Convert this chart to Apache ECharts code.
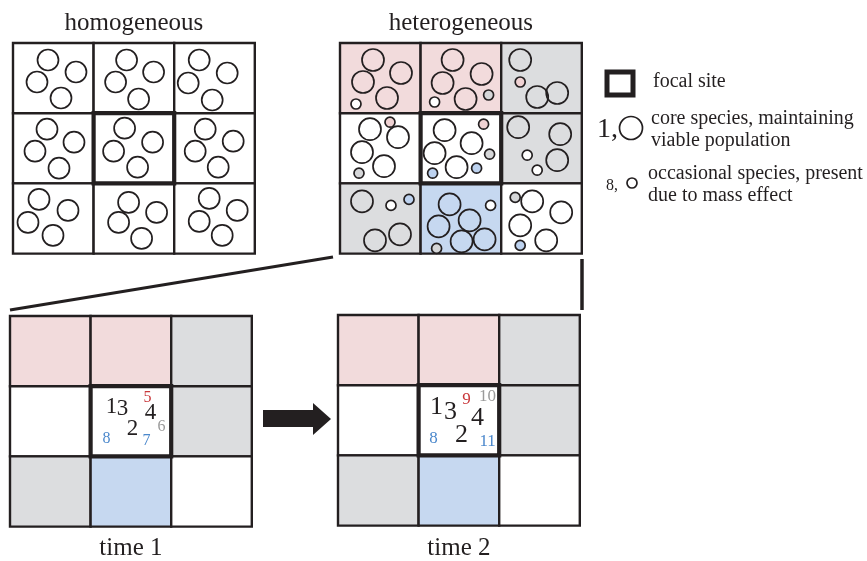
<!DOCTYPE html>
<html><head><meta charset="utf-8">
<script src="https://cdn.jsdelivr.net/npm/echarts@6/dist/echarts.min.js"></script>
<style>html,body{margin:0;padding:0;background:#fff}#c{width:867px;height:561px}</style>
</head><body><div id="c"></div>
<script>
// ================= DATA =================
const panelTitles = ['homogeneous', 'heterogeneous', 'time 1', 'time 2'];
// cell habitat types, row-major 3x3
const homoCellTypes = ['white','white','white','white','white','white','white','white','white'];
const heteroCellTypes = ['pink','pink','gray','white','white','gray','gray','blue','white'];
// homogeneous landscape: [cell, dx, dy] of core species
const homoCircles = [
  [0,35,17],[0,63,29],[0,24,39],[0,48,55],
  [1,33,17],[1,60,29],[1,22,39],[1,45,56],
  [2,25,17],[2,53,30],[2,14,40],[2,38,57],
  [3,34,16],[3,61,29],[3,22,38],[3,46,55],
  [4,31,15],[4,59,29],[4,20,38],[4,44,54],
  [5,31,16],[5,59,28],[5,21,38],[5,44,54],
  [6,26,16],[6,55,27],[6,15,39],[6,40,52],
  [7,35,19],[7,63,29],[7,25,39],[7,48,55],
  [8,35,15],[8,63,27],[8,25,38],[8,48,52]
];
// heterogeneous landscape: [cell, dx, dy, kind, colour-type]
const heteroCircles = [
  [0,33,17,'core','none'],[0,61,30,'core','none'],[0,23,39,'core','none'],[0,47,55,'core','none'],[0,16,61,'occ','white'],
  [1,32,17,'core','none'],[1,61,31,'core','none'],[1,22,40,'core','none'],[1,45,56,'core','none'],[1,14,59,'occ','white'],[1,68,52,'occ','gray'],
  [2,19,17,'core','none'],[2,36,54,'core','none'],[2,56,50,'core','none'],[2,19,39,'occ','pink'],
  [3,30,16,'core','none'],[3,58,24,'core','none'],[3,22,39,'core','none'],[3,44,53,'core','none'],[3,50,9,'occ','pink'],[3,19,60,'occ','gray'],
  [4,24,17,'core','none'],[4,51,30,'core','none'],[4,14,40,'core','none'],[4,36,54,'core','none'],[4,63,11,'occ','pink'],[4,69,41,'occ','gray'],[4,12,60,'occ','blue'],[4,56,55,'occ','blue'],
  [5,17,14,'core','none'],[5,59,21,'core','none'],[5,56,47,'core','none'],[5,26,42,'occ','white'],[5,36,57,'occ','white'],
  [6,22,18,'core','none'],[6,35,57,'core','none'],[6,60,51,'core','none'],[6,51,22,'occ','white'],[6,69,16,'occ','blue'],
  [7,29,21,'core','none'],[7,49,37,'core','none'],[7,18,43,'core','none'],[7,41,58,'core','none'],[7,64,56,'core','none'],[7,70,22,'occ','white'],[7,16,65,'occ','gray'],
  [8,31,18,'core','none'],[8,60,29,'core','none'],[8,19,42,'core','none'],[8,45,57,'core','none'],[8,14,14,'occ','gray'],[8,19,62,'occ','blue']
];
// species labels in focal site: [label, dx, dy, kind, colour-type]
const time1Species = [
  ['1',21,21,'core','black'],['3',32,23,'core','black'],['5',57,12,'occ','red'],['4',60,27,'core','black'],
  ['6',71,41,'occ','gray'],['2',42,43,'core','black'],['8',16,53,'occ','blue'],['7',56,55,'occ','blue']
];
const time2Species = [
  ['1',18,22,'core','black'],['3',32,27,'core','black'],['9',48,14,'occ','red'],['10',69,11,'occ','gray'],
  ['4',59,33,'core','black'],['2',43,50,'core','black'],['8',15,53,'occ','blue'],['11',69,56,'occ','blue']
];
const legendTexts = ['focal site', 'core species, maintaining', 'viable population', 'occasional species, present', 'due to mass effect'];
const legendMarks = ['1,', '8,'];

// ================= LAYOUT & STYLE =================
const L = {
  cw: 80.6, ch: 70.2,
  panels: [{x:13,y:43},{x:340,y:43},{x:10,y:316},{x:338,y:315}],
  titleY: [23, 23, 548, 548],
  speciesFont: {2:{core:23, occ:16}, 3:{core:26, occ:17}},
  connectors: [[[10,310],[333,257],3],[[582,259],[582,310],3.5]],
  arrow: [[263,410],[313,410],[313,403],[331,419],[313,435],[313,427],[263,427]],
  legendBox: [607,72,26,23],
  legendCircles: [[631,128,'core'],[632,183,'occ']],
  legendTextPos: [[653,82],[651,119],[651,141],[648,174],[648,196]],
  legendMarkPos: [[597,130,28],[606,186,16]]
};
const INK = '#231f20';
const CELL_FILL = {white:'#ffffff', pink:'#f2dbdc', gray:'#dcdddf', blue:'#c6d8f0'};
const OCC_FILL = {none:'rgba(0,0,0,0)', white:'#ffffff', pink:'#f0d2d3', gray:'#d5d6d8', blue:'#bdd2ef'};
const DIGIT_COL = {black:INK, red:'#c9373a', gray:'#9a9a9a', blue:'#4b88cc'};
const SERIF = '"Liberation Serif","Times New Roman",serif';

// ================= BUILD =================
const panelTypes = [homoCellTypes, heteroCellTypes, heteroCellTypes, heteroCellTypes];
const cellData = [];
panelTypes.forEach((types, p) => types.forEach((t, i) => cellData.push({value:[p, i % 3, Math.floor(i / 3)], t})));

function cellOrigin(p, cell) {
  const P = L.panels[p];
  return [P.x + (cell % 3) * L.cw, P.y + Math.floor(cell / 3) * L.ch];
}
const circleData = [];
homoCircles.forEach(([cell, dx, dy]) => {
  const o = cellOrigin(0, cell);
  circleData.push({value:[o[0] + dx, o[1] + dy], symbolSize: 21, itemStyle:{color: OCC_FILL.none}});
});
heteroCircles.forEach(([cell, dx, dy, kind, col]) => {
  const o = cellOrigin(1, cell);
  circleData.push({value:[o[0] + dx, o[1] + dy], symbolSize: kind === 'core' ? 22 : 10, itemStyle:{color: OCC_FILL[col]}});
});
L.legendCircles.forEach(([x, y, kind]) => circleData.push({value:[x, y], symbolSize: kind === 'core' ? 23 : 10, itemStyle:{color:'#fff'}}));

const labelData = [];
[[time1Species, 2], [time2Species, 3]].forEach(([arr, p]) => arr.forEach(([lab, dx, dy, kind, col]) => {
  const o = cellOrigin(p, 4);
  labelData.push({value:[o[0] + dx, o[1] + dy], text: lab, size: L.speciesFont[p][kind], color: DIGIT_COL[col], align:'center'});
}));
panelTitles.forEach((t, p) => labelData.push({value:[L.panels[p].x + 1.5 * L.cw, L.titleY[p]], text: t, size: 25, color: INK, align:'center'}));
legendTexts.forEach((t, i) => labelData.push({value: L.legendTextPos[i], text: t, size: 20, color: INK, align:'left'}));
legendMarks.forEach((t, i) => labelData.push({value: [L.legendMarkPos[i][0], L.legendMarkPos[i][1]], text: t, size: L.legendMarkPos[i][2], color: INK, align:'left'}));

const chart = echarts.init(document.getElementById('c'), null, {renderer:'canvas'});
chart.setOption({
  animation: false,
  backgroundColor: '#ffffff',
  grid: {left:0, right:0, top:0, bottom:0},
  xAxis: {type:'value', min:0, max:867, show:false},
  yAxis: {type:'value', min:0, max:561, inverse:true, show:false},
  series: [
    { // cells
      type:'custom', z:1, silent:true,
      data: cellData.map(d => d.value),
      renderItem: (params, api) => {
        const d = cellData[params.dataIndex];
        const P = L.panels[api.value(0)], c = api.value(1), r = api.value(2);
        const a = api.coord([P.x + c * L.cw, P.y + r * L.ch]);
        const b = api.coord([P.x + (c + 1) * L.cw, P.y + (r + 1) * L.ch]);
        return {type:'rect', shape:{x:a[0], y:a[1], width:b[0]-a[0], height:b[1]-a[1]},
          style:{fill: CELL_FILL[d.t], stroke: INK, lineWidth: 2.4}};
      }
    },
    { // focal borders + legend box
      type:'custom', z:5, silent:true,
      data: [[0],[1],[2],[3],[4]],
      renderItem: (params, api) => {
        const p = api.value(0);
        let x0, y0, x1, y1;
        if (p < 4) {
          const o = cellOrigin(p, 4);
          x0 = o[0]; y0 = o[1]; x1 = o[0] + L.cw; y1 = o[1] + L.ch;
        } else {
          const [x, y, w, h] = L.legendBox;
          x0 = x; y0 = y; x1 = x + w; y1 = y + h;
        }
        const a = api.coord([x0, y0]), b = api.coord([x1, y1]);
        return {type:'rect', shape:{x:a[0], y:a[1], width:b[0]-a[0], height:b[1]-a[1]},
          style:{fill:'none', stroke: INK, lineWidth: p < 4 ? 4.2 : 5}};
      }
    },
    { // circles
      type:'scatter', z:3, silent:true, symbol:'circle',
      itemStyle:{borderColor: INK, borderWidth: 1.7, opacity:1},
      data: circleData
    },
    { // connector lines
      type:'custom', z:4, silent:true,
      data: L.connectors.map((c, i) => [i]),
      renderItem: (params, api) => {
        const [p0, p1, w] = L.connectors[params.dataIndex];
        const a = api.coord(p0), b = api.coord(p1);
        return {type:'line', shape:{x1:a[0], y1:a[1], x2:b[0], y2:b[1]}, style:{stroke: INK, lineWidth: w}};
      }
    },
    { // arrow
      type:'custom', z:4, silent:true,
      data: [[0]],
      renderItem: (params, api) => ({type:'polygon', shape:{points: L.arrow.map(pt => api.coord(pt))}, style:{fill: INK}})
    },
    { // text
      type:'custom', z:6, silent:true,
      data: labelData.map(d => d.value),
      renderItem: (params, api) => {
        const d = labelData[params.dataIndex];
        const pt = api.coord([api.value(0), api.value(1)]);
        return {type:'text', x: pt[0], y: pt[1],
          style:{text: d.text, fill: d.color, font: d.size + 'px ' + SERIF, align: d.align, verticalAlign:'middle'}};
      }
    }
  ]
});
</script></body></html>
